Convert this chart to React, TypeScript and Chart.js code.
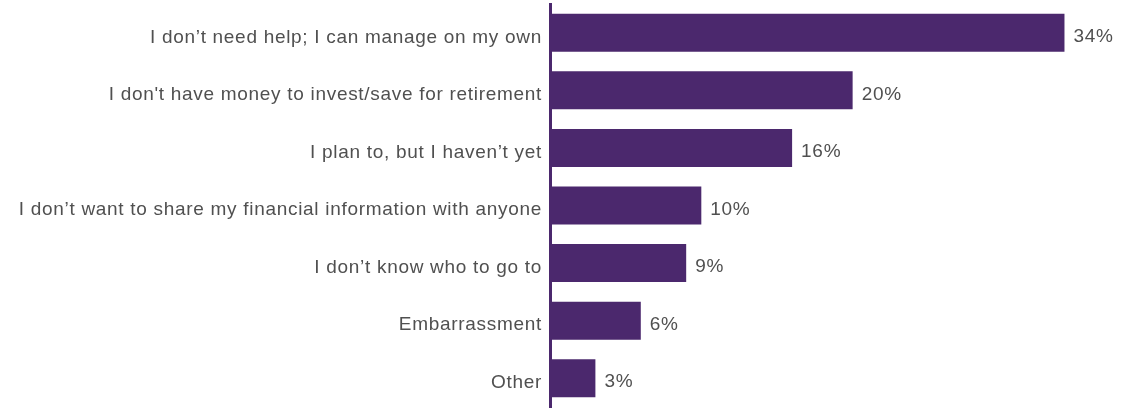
import React, { useEffect, useRef } from "react";
import { Chart, registerables } from "chart.js";

Chart.register(...registerables);

const categories = [
  "I don\u2019t need help; I can manage on my own",
  "I don't have money to invest/save for retirement",
  "I plan to, but I haven\u2019t yet",
  "I don\u2019t want to share my financial information with anyone",
  "I don\u2019t know who to go to",
  "Embarrassment",
  "Other",
];
const values = [34, 20, 16, 10, 9, 6, 3];
const valueLabels = ["34%", "20%", "16%", "10%", "9%", "6%", "3%"];

const PURPLE = "#4B286D";
const TEXT = "#505050";
const FONT = "'Liberation Sans', Arial, sans-serif";
const FONT_SIZE = 19;
const SPACING = "0.7px";

const labelPlugin = {
  id: "customLabels",
  afterDatasetsDraw(chart: any) {
    const ctx = chart.ctx;
    const meta = chart.getDatasetMeta(0);
    const left = chart.chartArea.left;
    ctx.save();
    ctx.font = `${FONT_SIZE}px ${FONT}`;
    (ctx as any).letterSpacing = SPACING;
    ctx.fillStyle = TEXT;
    ctx.textBaseline = "middle";
    meta.data.forEach((bar: any, i: number) => {
      ctx.textAlign = "left";
      ctx.fillText(valueLabels[i], bar.x + 9, bar.y + 4);
      ctx.textAlign = "right";
      ctx.fillText(categories[i], left - 8, bar.y + 4.5);
    });
    (ctx as any).letterSpacing = "0px";
    ctx.restore();
  },
};

export default function App() {
  const ref = useRef<HTMLCanvasElement>(null);
  useEffect(() => {
    document.body.style.margin = "0";
    const chart = new Chart(ref.current!, {
      type: "bar",
      data: {
        labels: categories,
        datasets: [
          {
            data: values,
            backgroundColor: PURPLE,
            borderWidth: 0,
            categoryPercentage: 1,
            barPercentage: 0.66,
          },
        ],
      },
      options: {
        indexAxis: "y",
        animation: false,
        responsive: false,
        maintainAspectRatio: false,
        layout: { padding: { top: 4, bottom: 1, right: 7, left: 0 } },
        plugins: { legend: { display: false }, tooltip: { enabled: false } },
        scales: {
          x: {
            display: false,
            min: 0,
            max: 38,
          },
          y: {
            afterFit(scale: any) {
              scale.width = 550;
              scale.paddingTop = 0;
              scale.paddingBottom = 0;
            },
            grid: { display: false, drawTicks: false },
            border: { display: true, color: PURPLE, width: 3 },
            ticks: { display: false },
          },
        },
      },
      plugins: [labelPlugin],
    });
    return () => chart.destroy();
  }, []);
  return (
    <div style={{ width: 1132, height: 408 }}>
      <canvas ref={ref} width={1132} height={408} />
    </div>
  );
}
